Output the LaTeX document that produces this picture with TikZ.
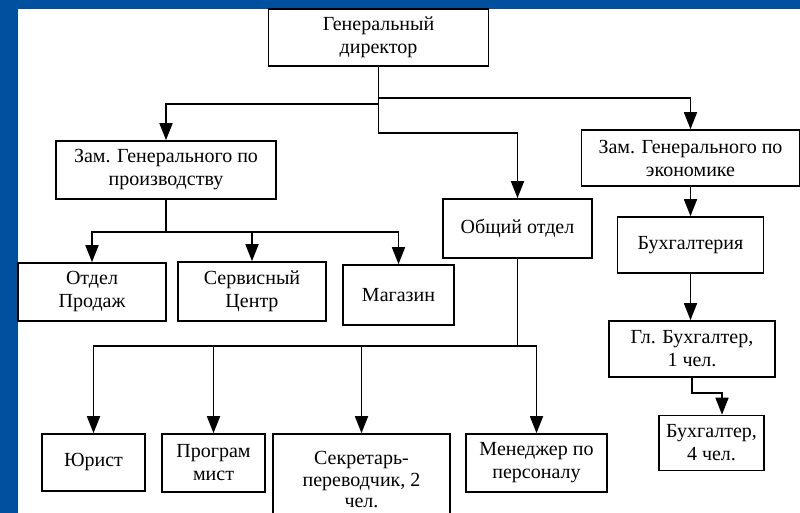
\documentclass[tikz,border=0pt]{standalone}
\usepackage{fontspec}
\setmainfont{Liberation Serif}
\usetikzlibrary{arrows.meta}
\definecolor{frameblue}{RGB}{0,80,160}
\begin{document}
\begin{tikzpicture}[x=1pt,y=-1pt,
  box/.style={draw=black,line width=1.6pt,fill=white,align=center,inner sep=0pt,
    font=\fontsize{20}{23}\selectfont},
  arr/.style={line width=1.6pt,-{Triangle[length=17pt,width=13pt]}}]
\useasboundingbox (0,0) rectangle (800,513);
\begin{scope}
\clip (0,0) rectangle (800,513);
\fill[frameblue] (0,0) rectangle (800,513);
\fill[white] (18,9) rectangle (800,513);

% nodes
\node[box,minimum width=220pt,minimum height=57pt] (gd) at (378.5,37.5) {Генеральный\\директор};
\node[box,minimum width=220pt,minimum height=58pt] (z1) at (166,170) {Зам. Генерального по\\производству};
\node[box,minimum width=218pt,minimum height=56pt] (z2) at (690.5,158) {Зам. Генерального по\\экономике};
\node[box,minimum width=149pt,minimum height=59pt] (ob) at (517.5,228.5) {Общий отдел};
\node[box,minimum width=146pt,minimum height=56pt] (bux) at (690.5,245) {Бухгалтерия};
\node[box,minimum width=166pt,minimum height=56pt] (gl) at (692,349) {Гл. Бухгалтер,\\1 чел.};
\node[box,minimum width=105pt,minimum height=55pt] (b4) at (711.5,443) {Бухгалтер,\\4 чел.};
\node[box,minimum width=148pt,minimum height=58pt] (op) at (92,292) {Отдел\\Продаж};
\node[box,minimum width=148pt,minimum height=59pt] (sc) at (252,291.5) {Сервисный\\Центр};
\node[box,minimum width=111pt,minimum height=60pt] (mg) at (398.5,295) {Магазин};
\node[box,minimum width=103pt,minimum height=57pt] (yu) at (93.5,462.5) {Юрист};
\node[box,minimum width=103pt,minimum height=58pt] (pr) at (213.5,463) {Програм\\мист};
\node[box,minimum width=177pt,minimum height=92pt,font=\fontsize{20}{21.5}\selectfont] (se) at (361.5,480) {Секретарь-\\переводчик, 2\\чел.};
\node[box,minimum width=141pt,minimum height=58pt] (mn) at (536.5,463) {Менеджер по\\персоналу};

% connectors from general director
\draw[arr] (gd.south) -- (gd.south |- 0,104) -| (z1.north);
\draw[arr] (gd.south) -- (gd.south |- 0,98) -| (z2.north);
\draw[arr] (gd.south) -- (gd.south |- 0,133) -| (ob.north);

% production deputy
\draw[arr] (z1.south) -- (z1.south |- 0,232) -| (op.north);
\draw[arr] (z1.south) -- (z1.south |- 0,232) -| (sc.north);
\draw[arr] (z1.south) -- (z1.south |- 0,232) -| (mg.north);

% economics deputy chain
\draw[arr] (z2.south) -- (z2.south |- bux.north);
\draw[arr] (bux.south) -- (bux.south |- gl.north);
\draw[arr] (gl.south) -- (gl.south |- 0,393) -| ([xshift=10.5pt]b4.north);

% general department
\draw[arr] (ob.south) -- (ob.south |- 0,346) -| (yu.north);
\draw[arr] (ob.south) -- (ob.south |- 0,346) -| (pr.north);
\draw[arr] (ob.south) -- (ob.south |- 0,346) -| (se.north);
\draw[arr] (ob.south) -- (ob.south |- 0,346) -| (mn.north);
\end{scope}
\end{tikzpicture}
\end{document}
